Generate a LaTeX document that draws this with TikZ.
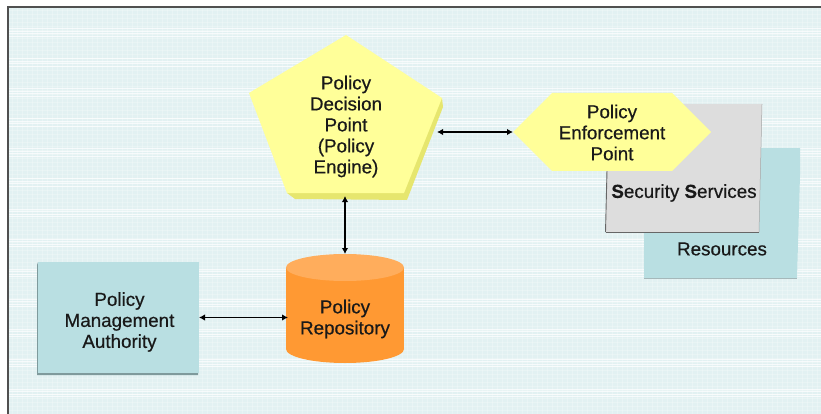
\documentclass[tikz,border=0pt]{standalone}
\usepackage{fontspec}
\setmainfont{Liberation Sans}
\usetikzlibrary{arrows.meta}
\definecolor{bgblue}{HTML}{E2F1F2}
\definecolor{frameg}{HTML}{505050}
\definecolor{penyel}{HTML}{FFFF99}
\definecolor{penshade}{HTML}{E6E66E}
\definecolor{teal}{HTML}{B9DFE2}
\definecolor{tealshade}{HTML}{7F9A9C}
\definecolor{graybox}{HTML}{DDDDDD}
\definecolor{orangebody}{HTML}{FF9933}
\definecolor{orangetop}{HTML}{FFAD5C}
\tikzset{
  x=1pt,y=-1pt,
  lbl/.style={font=\fontsize{18.8}{21}\selectfont\addfontfeature{FakeBold=0.5},text=black!90,align=center,inner sep=0pt},
  hit/.style={inner sep=0pt,outer sep=0pt,minimum width=#1},
  link/.style={draw=black,line width=1.5pt,{Latex[length=6pt,width=6.5pt]}-{Latex[length=6pt,width=6.5pt]}},
  gridline/.style={white,line width=1pt,opacity=.7}
}
\begin{document}
\begin{tikzpicture}
\useasboundingbox (0,0) rectangle (821,414);
\fill[white] (0,0) rectangle (821,414);
\fill[bgblue] (8,7) rectangle (821,414);
% white mesh of the slide background
\begin{scope}
\clip (9,8) rectangle (821,414);
\foreach \y in {10,14,...,414} {\draw[white,line width=.6pt,opacity=.22] (9,\y) -- (821,\y);}
\foreach \k in {0,1,...,13} {
  \foreach \d in {0,2.5,5,7.5} {\draw[gridline] (9,{29+30*\k+\d}) -- (821,{29+30*\k+\d});}
}
\foreach \x in {12,17,...,821} {\draw[white,line width=.5pt,opacity=.25] (\x,8) -- (\x,414);}
\end{scope}
\draw[frameg,line width=1.6pt] (8,414) -- (8,7) -- (821,7);

% resources
\path[fill=teal] (644,149) -- (800,148) -- (800,175) -- (797,278) -- (644,278) -- cycle;
\draw[tealshade!70,line width=.7pt] (644,278) -- (797,278);
\node[lbl] (restext) at (722,249) {Resources};

% security services
\path[fill=graybox] (607,104) -- (762,104) -- (759,232) -- (606,232) -- cycle;
\draw[black!60,line width=.9pt] (605.5,232) -- (607,170);
\draw[black!60,line width=1pt] (605.5,232) -- (759,232);
\draw[black!35,line width=.5pt] (762,104) -- (759,232);
\node[lbl] (sectext) at (684,193) {\textbf{S}ecurity \textbf{S}ervices};

% policy enforcement point
\path[fill=penyel] (513,132) -- (552,93) -- (672,93) -- (711,132) -- (672,171) -- (552,171) -- cycle;
\node[hit=198pt,minimum height=78pt] (pep) at (612,132) {};
\node[lbl] (peptext) at (612,132.5) {Policy\\Enforcement\\Point};

% policy decision point
\path[fill=penshade] (442,98) -- (443,107) -- (407,200) -- (295,199) -- (287,193) -- cycle;
\path[fill=penyel] (346,35) -- (442,98) -- (404,193) -- (287,193) -- (249,93) -- cycle;
\node[hit=184pt,minimum height=161pt] (pdp) at (345,115.5) {};
\node[lbl] (pdptext) at (346,126.5) {Policy\\Decision\\Point\\(Policy\\Engine)};

% policy repository
\fill[orangebody] (286,267.5) rectangle (404,349);
\fill[orangebody] (345,349) ellipse[x radius=59,y radius=14];
\fill[orangetop] (345,267.5) ellipse[x radius=59,y radius=13.5];
\node[hit=118pt,minimum height=109pt] (repo) at (345,308.5) {};
\node[lbl] (repotext) at (345,319) {Policy\\Repository};

% policy management authority
\path[fill=tealshade] (37,265) -- (38,262) -- (199,262) -- (198,375) -- (37,375) -- cycle;
\node[hit=161pt,minimum height=111pt,fill=teal] (pma) at (118.5,317.5) {};
\node[lbl] (pmatext) at (119.5,322) {Policy\\Management\\Authority};

% connectors
\draw[link] (pdp.east |- pep.west) -- (pep.west);
\draw[link] (pdp.south) -- (repo.north);
\draw[link,shorten >=-2pt] (pma.east) -- (pma.east -| repo.west);
\end{tikzpicture}
\end{document}
